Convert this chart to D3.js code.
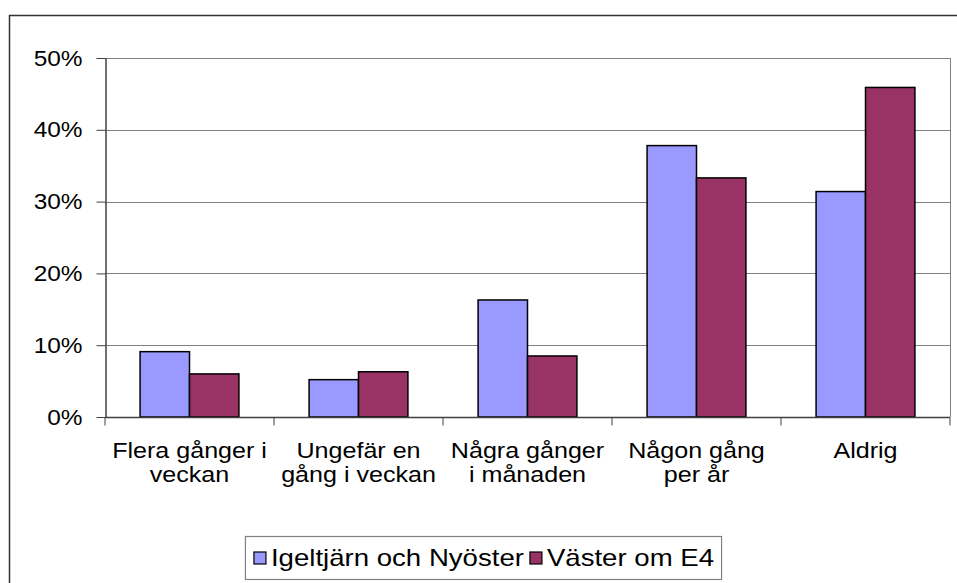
<!DOCTYPE html>
<html>
<head>
<meta charset="utf-8">
<script src="https://cdn.jsdelivr.net/npm/d3@7"></script>
<style>
  body { margin: 0; background: #fff; }
  text { font-family: "Liberation Sans", Arial, sans-serif; fill: #000; }
</style>
</head>
<body>
<svg width="957" height="583"></svg>
<script>
// data
var categories = [
  ["Flera gånger i", "veckan"],
  ["Ungefär en", "gång i veckan"],
  ["Några gånger", "i månaden"],
  ["Någon gång", "per år"],
  ["Aldrig"]
]
var seriesNames = ["Igeltjärn och Nyöster", "Väster om E4"]
var igeltjarn = [0.091, 0.052, 0.163, 0.378, 0.314]
var vaster = [0.060, 0.063, 0.085, 0.333, 0.459]
var yTicks = [0, 0.1, 0.2, 0.3, 0.4, 0.5]
var colors = ["#9999ff", "#993366"]

// the original text is stretched sideways a bit
var FS = 22
var SX_Y = 1.11, SX_CAT = 1.14, SX_LEG = 1.2, FS_LEG = 23

var svg = d3.select("svg"),
  margin = {top: 58, right: 7, bottom: 166, left: 105},
  width = +svg.attr("width") - margin.left - margin.right,
  height = +svg.attr("height") - margin.top - margin.bottom

// outer chart border (runs off the right / bottom edge)
svg.append("rect")
  .attr("x", 9.5).attr("y", 15.5)
  .attr("width", 960).attr("height", 580)
  .attr("fill", "none").attr("stroke", "#333").attr("stroke-width", 1.5)

var g = svg.append("g").attr("transform", "translate(" + margin.left + "," + margin.top + ")")

var x0 = d3.scaleBand().domain(d3.range(categories.length)).range([0, width]).padding(0)
var x1 = d3.scaleBand().domain([0, 1]).range([0, x0.bandwidth()]).paddingInner(0).paddingOuter(0.71)
var y = d3.scaleLinear().domain([0, 0.5]).range([height, 0])

// gridlines
g.append("g").selectAll("line")
  .data(yTicks.slice(1))
  .enter().append("line")
    .attr("x1", 0).attr("x2", width)
    .attr("y1", function (d) { return Math.round(y(d)) + 0.5 })
    .attr("y2", function (d) { return Math.round(y(d)) + 0.5 })
    .attr("stroke", "#808080")

// right side of plot area
g.append("line")
  .attr("x1", width + 0.5).attr("x2", width + 0.5)
  .attr("y1", y(0.5)).attr("y2", height)
  .attr("stroke", "#808080")

// bars
var rows = categories.map(function (c, i) { return [igeltjarn[i], vaster[i]] })
g.append("g").selectAll("g")
  .data(rows)
  .enter().append("g")
    .attr("transform", function (d, i) { return "translate(" + x0(i) + ",0)" })
  .selectAll("rect")
  .data(function (d) { return d })
  .enter().append("rect")
    .attr("x", function (d, k) { return x1(k) })
    .attr("y", function (d) { return y(d) })
    .attr("width", x1.bandwidth())
    .attr("height", function (d) { return height - y(d) })
    .attr("fill", function (d, k) { return colors[k] })
    .attr("stroke", "#000")
    .attr("stroke-width", 1.5)

// y axis
var yAxis = g.append("g")
  .attr("transform", "translate(0.5,0)")
  .call(d3.axisLeft(y).tickValues(yTicks).tickFormat(d3.format(".0%")).tickSize(9).tickPadding(14).tickSizeOuter(0))
yAxis.select(".domain").attr("stroke", "#404040").attr("stroke-width", 1.5)
yAxis.selectAll(".tick line").attr("stroke", "#404040")
yAxis.selectAll(".tick text")
  .attr("font-size", FS)
  .attr("font-family", null)
  .attr("x", -23 / SX_Y)
  .attr("transform", "scale(" + SX_Y + ",1)")

// x axis line and boundary ticks
var xAxis = g.append("g").attr("transform", "translate(0," + (height + 0.5) + ")")
xAxis.append("line")
  .attr("x1", 0).attr("x2", width)
  .attr("stroke", "#404040").attr("stroke-width", 1.5)
xAxis.selectAll(".bt")
  .data(d3.range(categories.length + 1))
  .enter().append("line")
    .attr("class", "bt")
    .attr("x1", function (i) { return i < categories.length ? x0(i) : width })
    .attr("x2", function (i) { return i < categories.length ? x0(i) : width })
    .attr("y1", 0).attr("y2", 8)
    .attr("stroke", "#404040")

var labels = xAxis.selectAll(".cat")
  .data(categories)
  .enter().append("g")
    .attr("class", "cat")
    .attr("transform", function (d, i) { return "translate(" + (x0(i) + x0.bandwidth() / 2) + ",40)" })
  .append("text")
    .attr("font-size", FS)
    .attr("text-anchor", "middle")
    .attr("transform", "scale(" + SX_CAT + ",1)")
labels.selectAll("tspan")
  .data(function (d) { return d })
  .enter().append("tspan")
    .attr("x", 0)
    .attr("dy", function (d, i) { return i === 0 ? 0 : 25 })
    .text(function (d) { return d })

// legend
var legend = svg.append("g").attr("transform", "translate(0,558)")
var box = legend.append("rect")
  .attr("y", -21.5).attr("height", 43)
  .attr("fill", "#fff").attr("stroke", "#808080").attr("stroke-width", 1.2)
var items = legend.selectAll(".item")
  .data(seriesNames)
  .enter().append("g")
    .attr("class", "item")
items.append("rect")
  .attr("y", -6).attr("width", 12).attr("height", 12)
  .attr("fill", function (d, i) { return colors[i] })
  .attr("stroke", "#000").attr("stroke-width", 1.2)
items.append("text")
  .attr("x", 17 / SX_LEG)
  .attr("dy", "0.35em")
  .attr("font-size", FS_LEG)
  .attr("transform", "scale(" + SX_LEG + ",1)")
  .text(function (d) { return d })

var pos = 0, starts = []
items.each(function () {
  starts.push(pos)
  var w = d3.select(this).select("text").node().getComputedTextLength() * SX_LEG
  pos += 17 + w + 6
})
var total = pos - 6
var left = 484 - total / 2
items.attr("transform", function (d, i) { return "translate(" + (left + starts[i]) + ",0)" })
box.attr("x", left - 8.5).attr("width", total + 16)
</script>
</body>
</html>
